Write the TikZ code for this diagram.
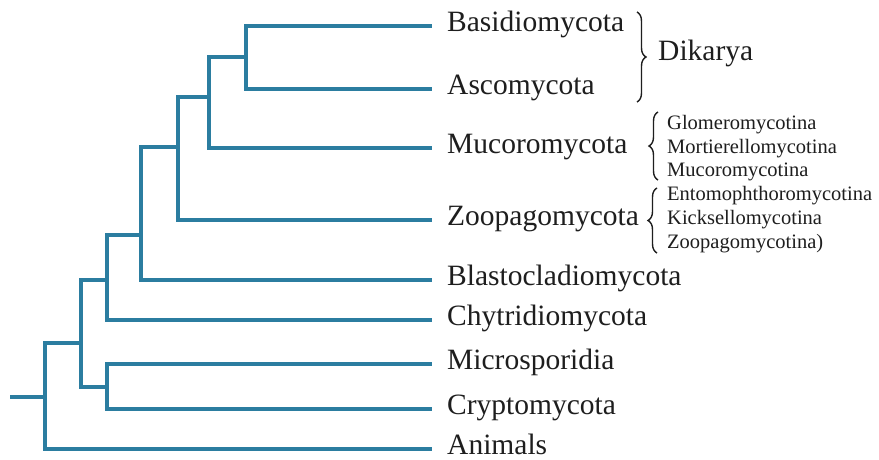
\documentclass[tikz,border=0pt]{standalone}
\usepackage{fontspec}
\setmainfont{Liberation Serif}
\usetikzlibrary{decorations.pathreplacing}
\definecolor{branch}{RGB}{43,125,160}
\definecolor{ink}{RGB}{30,30,30}
\begin{document}
\begin{tikzpicture}[x=1pt,y=-1pt,
  branchline/.style={draw=branch,line width=3.8pt},
  taxon/.style={anchor=mid west,inner sep=0pt,text=ink,font=\fontsize{29.5}{32}\selectfont},
  subtaxon/.style={anchor=mid west,inner sep=0pt,text=ink,font=\fontsize{20.5}{23}\selectfont},
  bracket/.style={draw=ink,line width=1.4pt,decorate,decoration={brace,amplitude=9pt}}]
\useasboundingbox (0,0) rectangle (879,459);
\fill[white] (0,0) rectangle (879,459);
% leaf labels
\node[taxon] (basi) at (447,29) {Basidiomycota};
\node[taxon] (asco) at (447,92) {Ascomycota};
\node[taxon] (muco) at (447,151) {Mucoromycota};
\node[taxon] (zoop) at (447,223) {Zoopagomycota};
\node[taxon] (blas) at (447,283) {Blastocladiomycota};
\node[taxon] (chyt) at (447,323) {Chytridiomycota};
\node[taxon] (micr) at (447,367) {Microsporidia};
\node[taxon] (cryp) at (447,412) {Cryptomycota};
\node[taxon] (anim) at (447,452) {Animals};
\node[taxon] (dika) at (658,58) {Dikarya};
% subgroups
\node[subtaxon] (glom) at (667,127) {Glomeromycotina};
\node[subtaxon] (mort) at (667,151) {Mortierellomycotina};
\node[subtaxon] (mucs) at (667,174) {Mucoromycotina};
\node[subtaxon] (ento) at (667,198) {Entomophthoromycotina};
\node[subtaxon] (kick) at (667,222) {Kicksellomycotina};
\node[subtaxon] (zoos) at (667,246) {Zoopagomycotina)};
% internal nodes
\coordinate (nDik) at (246,57);
\coordinate (nA) at (209,97);
\coordinate (nB) at (178,147);
\coordinate (nC) at (141,235);
\coordinate (nD) at (107,280);
\coordinate (nMC) at (107,387);
\coordinate (nE) at (81,343);
\coordinate (nR) at (45,397);
\coordinate (stub) at (10,397);
% leaf ends
\coordinate (eBasi) at (432,26);
\coordinate (eAsco) at (432,89);
\coordinate (eMuco) at (432,148);
\coordinate (eZoop) at (432,220);
\coordinate (eBlas) at (432,280);
\coordinate (eChyt) at (432,320);
\coordinate (eMicr) at (432,364);
\coordinate (eCryp) at (432,409);
\coordinate (eAnim) at (432,449);
% branches
\draw[branchline] (nDik) |- (eBasi);
\draw[branchline] (nDik) |- (eAsco);
\draw[branchline] (nA) |- (nDik);
\draw[branchline] (nA) |- (eMuco);
\draw[branchline] (nB) |- (nA);
\draw[branchline] (nB) |- (eZoop);
\draw[branchline] (nC) |- (nB);
\draw[branchline] (nC) |- (eBlas);
\draw[branchline] (nD) |- (nC);
\draw[branchline] (nD) |- (eChyt);
\draw[branchline] (nMC) |- (eMicr);
\draw[branchline] (nMC) |- (eCryp);
\draw[branchline] (nE) |- (nD);
\draw[branchline] (nE) |- (nMC);
\draw[branchline] (nR) |- (nE);
\draw[branchline] (nR) |- (eAnim);
\draw[branchline] (stub) -- (nR);
% braces
\draw[bracket] (637,12) -- (637,102);
\draw[bracket] (658,180) -- (658,112);
\draw[bracket] (657,253) -- (657,188);
\end{tikzpicture}
\end{document}
